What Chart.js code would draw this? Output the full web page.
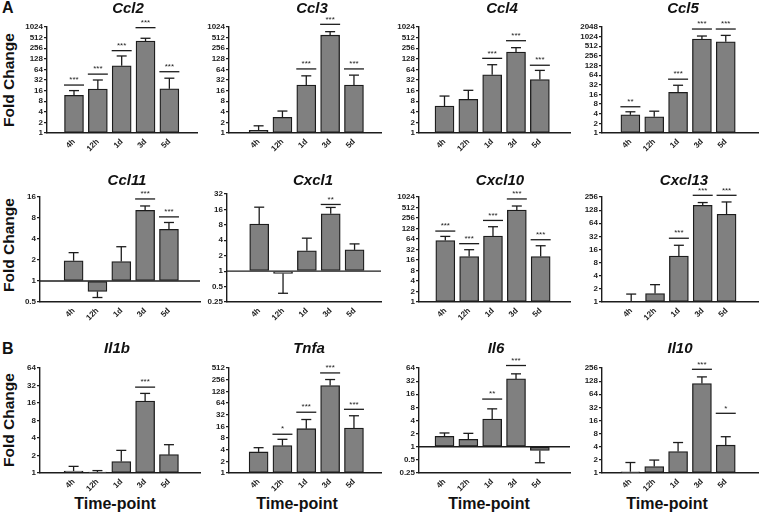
<!DOCTYPE html>
<html>
<head>
<meta charset="utf-8">
<script src="https://cdn.jsdelivr.net/npm/chart.js@4/dist/chart.umd.min.js"></script>
<style>
  body { margin: 0; width: 760px; height: 514px; position: relative; overflow: hidden; background: #fff;
         font-family: "Liberation Sans", Arial, sans-serif; }
  canvas { position: absolute; }
  .lbl { position: absolute; font-weight: bold; color: #111; white-space: nowrap; }
  .rot { transform: translate(-50%, -50%) rotate(-90deg); }
  .mid { transform: translate(-50%, -50%); }
</style>
</head>
<body>
<div class="lbl" style="left:2px;top:-1px;font-size:16px">A</div>
<div class="lbl" style="left:2px;top:340px;font-size:16px">B</div>
<div class="lbl rot" style="left:9px;top:80px;font-size:15.5px">Fold Change</div>
<div class="lbl rot" style="left:9px;top:245px;font-size:15.5px">Fold Change</div>
<div class="lbl rot" style="left:9px;top:420px;font-size:15.5px">Fold Change</div>
<div class="lbl mid" style="left:115px;top:504px;font-size:16px">Time-point</div>
<div class="lbl mid" style="left:297px;top:504px;font-size:16px">Time-point</div>
<div class="lbl mid" style="left:489px;top:504px;font-size:16px">Time-point</div>
<div class="lbl mid" style="left:667px;top:504px;font-size:16px">Time-point</div>

<script>
// Categories
const timeLabels = ['4h', '12h', '1d', '3d', '5d'];

// Tick labels (log2 axes)
const ticks64 = [1, 2, 4, 8, 16, 32, 64];
const ticks256 = [1, 2, 4, 8, 16, 32, 64, 128, 256];
const ticks512 = [1, 2, 4, 8, 16, 32, 64, 128, 256, 512];
const ticks1024 = [1, 2, 4, 8, 16, 32, 64, 128, 256, 512, 1024];
const ticks2048 = [1, 2, 4, 8, 16, 32, 64, 128, 256, 512, 1024, 2048];
const ticksCcl11 = [0.5, 1, 2, 4, 8, 16];
const ticksCxcl1 = [0.25, 0.5, 1, 2, 4, 8, 16, 32];
const ticksIl6 = [0.25, 0.5, 1, 2, 4, 8, 16, 32, 64];

// Fold change means, error-bar ends, significance line heights and stars
const ccl2Mean = [11.8, 17.8, 81, 410, 18];
const ccl2Err = [16, 32, 154, 490, 36];
const ccl2Sig = [23, 47, 218, 980, 55];
const ccl2Stars = ['***', '***', '***', '***', '***'];

const ccl3Mean = [1.2, 2.8, 23, 600, 23];
const ccl3Err = [1.6, 4.2, 42, 755, 44];
const ccl3Sig = [null, null, 66, 1220, 66];
const ccl3Stars = ['', '', '***', '***', '***'];

const ccl4Mean = [5.8, 9, 45, 200, 33];
const ccl4Err = [11.2, 16.3, 87, 265, 60];
const ccl4Sig = [null, null, 132, 418, 84];
const ccl4Stars = ['', '', '***', '***', '***'];

const ccl5Mean = [3.7, 3.2, 18.6, 860, 710];
const ccl5Err = [4.6, 4.8, 31, 1070, 1120];
const ccl5Sig = [6.6, null, 48, 1770, 1770];
const ccl5Stars = ['**', '', '***', '***', '***'];

const ccl11Mean = [1.95, 0.71, 1.9, 10.3, 5.5];
const ccl11Err = [2.55, 0.58, 3.1, 11.9, 6.9];
const ccl11Sig = [null, null, null, 15, 8.3];
const ccl11Stars = ['', '', '', '***', '***'];

const cxcl1Mean = [8.3, 0.9, 2.5, 13.2, 2.6];
const cxcl1Err = [17.7, 0.37, 4.4, 17.5, 3.4];
const cxcl1Sig = [null, null, null, 20, null];
const cxcl1Stars = ['', '', '', '**', ''];

const cxcl10Mean = [58, 20, 78, 434, 20];
const cxcl10Err = [76, 31.6, 144, 565, 41];
const cxcl10Sig = [108, 47, 218, 900, 61];
const cxcl10Stars = ['***', '***', '***', '***', '***'];

const cxcl13Mean = [1.0, 1.57, 11.3, 165, 103];
const cxcl13Err = [1.52, 2.5, 20, 191, 197];
const cxcl13Sig = [null, null, 29, 280, 280];
const cxcl13Stars = ['', '', '***', '***', '***'];

const il1bMean = [1.08, 1.04, 1.57, 17.3, 2.07];
const il1bErr = [1.3, 1.1, 2.45, 23.4, 3.07];
const il1bSig = [null, null, null, 30, null];
const il1bStars = ['', '', '', '***', ''];

const tnfaMean = [3.5, 5.1, 13.9, 181, 14.5];
const tnfaErr = [4.5, 7.4, 24, 258, 30];
const tnfaSig = [null, 10, 37, 382, 44];
const tnfaStars = ['', '*', '***', '***', '***'];

const il6Mean = [1.73, 1.48, 4.3, 36, 0.82];
const il6Err = [2.07, 2.03, 7.4, 47, 0.43];
const il6Sig = [null, null, 12.4, 73, null];
const il6Stars = ['', '', '**', '***', ''];

const il10Mean = [1.07, 1.41, 3.1, 113, 4.35];
const il10Err = [1.74, 1.98, 5.0, 160, 6.8];
const il10Sig = [null, null, null, 239, 23.4];
const il10Stars = ['', '', '', '***', '*'];

// Panel placement on the page (pixels)
const STEP = 29.8;
const panels = [
  { title: 'Ccl2', mean: ccl2Mean, err: ccl2Err, sig: ccl2Sig, stars: ccl2Stars, ticks: ticks1024,
    left: 47, first: 62, right: 197, top: 27, bottom: 133, titleX: 128, titleY: 9 },
  { title: 'Ccl3', mean: ccl3Mean, err: ccl3Err, sig: ccl3Sig, stars: ccl3Stars, ticks: ticks1024,
    left: 229, first: 247, right: 381, top: 27, bottom: 133, titleX: 312, titleY: 9 },
  { title: 'Ccl4', mean: ccl4Mean, err: ccl4Err, sig: ccl4Sig, stars: ccl4Stars, ticks: ticks1024,
    left: 419, first: 432, right: 570, top: 27, bottom: 133, titleX: 502, titleY: 9 },
  { title: 'Ccl5', mean: ccl5Mean, err: ccl5Err, sig: ccl5Sig, stars: ccl5Stars, ticks: ticks2048,
    left: 602, first: 618, right: 758, top: 27, bottom: 133, titleX: 683, titleY: 9 },
  { title: 'Ccl11', mean: ccl11Mean, err: ccl11Err, sig: ccl11Sig, stars: ccl11Stars, ticks: ticksCcl11,
    left: 40, first: 62, right: 200, top: 197, bottom: 302, titleX: 127, titleY: 181 },
  { title: 'Cxcl1', mean: cxcl1Mean, err: cxcl1Err, sig: cxcl1Sig, stars: cxcl1Stars, ticks: ticksCxcl1,
    left: 227, first: 248, right: 381, top: 194, bottom: 302, titleX: 313, titleY: 181 },
  { title: 'Cxcl10', mean: cxcl10Mean, err: cxcl10Err, sig: cxcl10Sig, stars: cxcl10Stars, ticks: ticks1024,
    left: 419, first: 433, right: 570, top: 197, bottom: 302, titleX: 500, titleY: 181 },
  { title: 'Cxcl13', mean: cxcl13Mean, err: cxcl13Err, sig: cxcl13Sig, stars: cxcl13Stars, ticks: ticks256,
    left: 602, first: 619, right: 758, top: 197, bottom: 302, titleX: 684, titleY: 181 },
  { title: 'Il1b', mean: il1bMean, err: il1bErr, sig: il1bSig, stars: il1bStars, ticks: ticks64,
    left: 40, first: 62, right: 200, top: 368, bottom: 473, titleX: 117, titleY: 349 },
  { title: 'Tnfa', mean: tnfaMean, err: tnfaErr, sig: tnfaSig, stars: tnfaStars, ticks: ticks512,
    left: 229, first: 247, right: 381, top: 368, bottom: 473, titleX: 309, titleY: 349 },
  { title: 'Il6', mean: il6Mean, err: il6Err, sig: il6Sig, stars: il6Stars, ticks: ticksIl6,
    left: 419, first: 432, right: 570, top: 368, bottom: 473, titleX: 496, titleY: 349 },
  { title: 'Il10', mean: il10Mean, err: il10Err, sig: il10Sig, stars: il10Stars, ticks: ticks256,
    left: 602, first: 618, right: 758, top: 368, bottom: 473, titleX: 680, titleY: 349 }
];

const INK = '#1c1c1c';
const FONT = '"Liberation Sans", Arial, sans-serif';
const PAD_TOP = 30, X_AXIS_H = 24, Y_AXIS_W = 40, PAD_RIGHT = 8;

// Draws error bars, the y=1 line, significance bars and the gene title
function annotate(p) {
  return {
    id: 'annotate',
    afterDatasetsDraw(chart) {
      const { ctx, chartArea, scales: { x, y } } = chart;
      const seg = (x1, y1, x2, y2) => {
        ctx.beginPath(); ctx.moveTo(x1, y1); ctx.lineTo(x2, y2); ctx.stroke();
      };
      ctx.save();
      ctx.strokeStyle = INK;
      ctx.fillStyle = INK;
      ctx.lineWidth = 1.3;

      if (p.ticks[0] < 1) {
        const yb = y.getPixelForValue(1);
        ctx.lineWidth = 1.4;
        seg(chartArea.left, yb, chartArea.right, yb);
        ctx.lineWidth = 1.3;
      }

      p.mean.forEach((m, i) => {
        const cx = x.getPixelForValue(i);
        const y0 = y.getPixelForValue(m);
        const y1 = y.getPixelForValue(p.err[i]);
        seg(cx, y0, cx, y1);
        seg(cx - 5, y1, cx + 5, y1);
        if (p.sig[i]) {
          const ys = y.getPixelForValue(p.sig[i]);
          seg(cx - 10, ys, cx + 10, ys);
          ctx.font = '8px ' + FONT;
          ctx.textAlign = 'center';
          ctx.textBaseline = 'bottom';
          ctx.fillText(p.stars[i], cx, ys - 1);
        }
      });

      ctx.font = 'italic bold 15px ' + FONT;
      ctx.textAlign = 'center';
      ctx.textBaseline = 'middle';
      ctx.fillStyle = '#111';
      ctx.fillText(p.title, p.titleX - (p.left - Y_AXIS_W), p.titleY - (p.top - PAD_TOP));
      ctx.restore();
    }
  };
}

function makeChart(p) {
  const canvas = document.createElement('canvas');
  canvas.width = p.right - p.left + Y_AXIS_W + PAD_RIGHT;
  canvas.height = p.bottom - p.top + PAD_TOP + X_AXIS_H;
  canvas.style.left = (p.left - Y_AXIS_W) + 'px';
  canvas.style.top = (p.top - PAD_TOP) + 'px';
  document.body.appendChild(canvas);

  new Chart(canvas, {
    type: 'bar',
    data: {
      datasets: [{
        data: p.mean.map((v, i) => ({ x: i, y: v })),
        base: 1,
        backgroundColor: '#808080',
        borderColor: INK,
        borderWidth: 1.3,
        borderSkipped: false,
        barThickness: 19
      }]
    },
    options: {
      responsive: false,
      animation: false,
      devicePixelRatio: 1,
      layout: { padding: { top: PAD_TOP, right: PAD_RIGHT, left: 0, bottom: 0 } },
      plugins: { legend: { display: false }, tooltip: { enabled: false } },
      scales: {
        x: {
          type: 'linear',
          min: (p.left - p.first) / STEP,
          max: (p.right - p.first) / STEP,
          afterBuildTicks: s => { s.ticks = timeLabels.map((_, i) => ({ value: i })); },
          afterFit: s => { s.height = X_AXIS_H; },
          grid: { display: false, drawTicks: false },
          border: { display: true, color: INK, width: 1.4 },
          ticks: {
            autoSkip: false, minRotation: 45, maxRotation: 45, padding: 4, color: '#222',
            font: { family: FONT, size: 8, weight: 'bold' },
            callback: v => timeLabels[Math.round(v)]
          }
        },
        y: {
          type: 'logarithmic',
          min: p.ticks[0],
          max: p.ticks[p.ticks.length - 1],
          afterBuildTicks: s => { s.ticks = p.ticks.map(v => ({ value: v })); },
          afterFit: s => { s.width = Y_AXIS_W; },
          grid: { drawOnChartArea: false, drawTicks: true, tickLength: 3, color: INK, lineWidth: 1.2 },
          border: { display: true, color: INK, width: 1.4 },
          ticks: {
            autoSkip: false, padding: 1, color: '#222',
            font: { family: FONT, size: 8, weight: 'bold' },
            callback: v => String(v)
          }
        }
      }
    },
    plugins: [annotate(p)]
  });
}

panels.forEach(makeChart);
</script>
</body>
</html>
